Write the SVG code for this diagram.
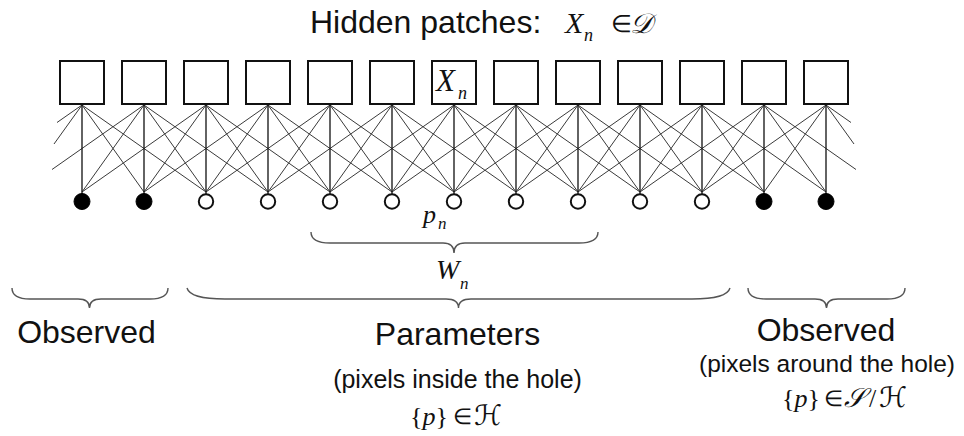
<svg xmlns="http://www.w3.org/2000/svg" width="964" height="436" viewBox="0 0 964 436">
<style>
.sq{fill:#fff;stroke:#111;stroke-width:2}
.dg{stroke:#3a3a3a;stroke-width:1;fill:none}
.vt{stroke:#111;stroke-width:1.3}
.op{fill:#fff;stroke:#111;stroke-width:2}
.fl{fill:#000;stroke:#000;stroke-width:1}
.br{fill:none;stroke:#555;stroke-width:1.4}
.lb{font-family:"Liberation Sans",Arial,sans-serif;fill:#111}
.mi{font-family:"Liberation Serif","Times New Roman",serif;font-style:italic;fill:#111}
.mr{font-family:"Liberation Serif","Times New Roman",serif;fill:#111}
.sc{font-family:"DejaVu Serif","DejaVu Sans",serif;font-style:italic;fill:#111}
</style>
<rect width="964" height="436" fill="#fff"/>
<g id="title">
<text class="lb" x="310" y="33" font-size="32">Hidden patches:</text>
<text class="mi" x="565" y="33" font-size="30">X</text>
<text class="mi" x="584" y="41" font-size="18">n</text>
<text class="mr" x="611" y="32" font-size="24">∈</text>
<text class="sc" x="630" y="33" font-size="28">𝒟</text>
</g>
<g id="connectors">
<path class="dg" d="M82 105L206 192M82 105L144 192M144 105L268 192M144 105L206 192M144 105L82 192M206 105L330 192M206 105L268 192M206 105L144 192M206 105L82 192M268 105L392 192M268 105L330 192M268 105L206 192M268 105L144 192M330 105L454 192M330 105L392 192M330 105L268 192M330 105L206 192M392 105L516 192M392 105L454 192M392 105L330 192M392 105L268 192M454 105L578 192M454 105L516 192M454 105L392 192M454 105L330 192M516 105L640 192M516 105L578 192M516 105L454 192M516 105L392 192M578 105L702 192M578 105L640 192M578 105L516 192M578 105L454 192M640 105L764 192M640 105L702 192M640 105L578 192M640 105L516 192M702 105L826 192M702 105L764 192M702 105L640 192M702 105L578 192M764 105L826 192M764 105L702 192M764 105L640 192M826 105L764 192M826 105L702 192"/>
<path class="dg" d="M82 105L54 144M82 105L57 122.5M144 105L52 169.5M826 105L854 144M826 105L851 122.5M764 105L856 169.5"/>
<path class="vt" d="M82 105V194M144 105V194M206 105V194M268 105V194M330 105V194M392 105V194M454 105V194M516 105V194M578 105V194M640 105V194M702 105V194M764 105V194M826 105V194"/>
</g>
<g id="patches">
<rect id="x0" class="sq" x="60" y="61" width="44" height="43"/>
<rect id="x1" class="sq" x="122" y="61" width="44" height="43"/>
<rect id="x2" class="sq" x="184" y="61" width="44" height="43"/>
<rect id="x3" class="sq" x="246" y="61" width="44" height="43"/>
<rect id="x4" class="sq" x="308" y="61" width="44" height="43"/>
<rect id="x5" class="sq" x="370" y="61" width="44" height="43"/>
<g id="x6"><rect class="sq" x="432" y="61" width="44" height="43"/>
<text class="mi" x="436" y="91" font-size="31">X</text>
<text class="mi" x="458" y="99" font-size="18">n</text></g>
<rect id="x7" class="sq" x="494" y="61" width="44" height="43"/>
<rect id="x8" class="sq" x="556" y="61" width="44" height="43"/>
<rect id="x9" class="sq" x="618" y="61" width="44" height="43"/>
<rect id="x10" class="sq" x="680" y="61" width="44" height="43"/>
<rect id="x11" class="sq" x="742" y="61" width="44" height="43"/>
<rect id="x12" class="sq" x="804" y="61" width="44" height="43"/>
</g>
<g id="pixels">
<circle id="p0" class="fl" cx="82" cy="201.5" r="8"/>
<circle id="p1" class="fl" cx="144" cy="201.5" r="8"/>
<circle id="p2" class="op" cx="206" cy="201.5" r="7.2"/>
<circle id="p3" class="op" cx="268" cy="201.5" r="7.2"/>
<circle id="p4" class="op" cx="330" cy="201.5" r="7.2"/>
<circle id="p5" class="op" cx="392" cy="201.5" r="7.2"/>
<circle id="p6" class="op" cx="454" cy="201.5" r="7.2"/>
<circle id="p7" class="op" cx="516" cy="201.5" r="7.2"/>
<circle id="p8" class="op" cx="578" cy="201.5" r="7.2"/>
<circle id="p9" class="op" cx="640" cy="201.5" r="7.2"/>
<circle id="p10" class="op" cx="702" cy="201.5" r="7.2"/>
<circle id="p11" class="fl" cx="764" cy="201.5" r="8"/>
<circle id="p12" class="fl" cx="826" cy="201.5" r="8"/>
</g>
<g id="pn-label">
<text class="mi" x="423" y="223" font-size="26">p</text>
<text class="mi" x="438" y="229" font-size="17">n</text>
</g>
<g id="braces">
<path class="br" d="M311 232Q311 243 330 243L443 243Q454 243 454 253Q454 243 465 243L579 243Q598 243 598 232"/>
<path class="br" d="M12 288Q12 299 30 299L78 299Q89.5 299 89.5 308Q89.5 299 101 299L150 299Q168 299 168 288"/>
<path class="br" d="M187 288Q190 299 225 299L446 299Q458.5 299 458.5 308Q458.5 299 471 299L692 299Q727 299 730 288"/>
<path class="br" d="M748 288Q748 299 766 299L815 299Q826.5 299 826.5 308Q826.5 299 838 299L887 299Q905 299 905 288"/>
</g>
<g id="wn-label">
<text class="mi" x="436" y="279" font-size="28">W</text>
<text class="mi" x="460" y="289" font-size="17">n</text>
</g>
<g id="observed-left">
<text class="lb" x="86.5" y="343" font-size="32" text-anchor="middle">Observed</text>
</g>
<g id="parameters">
<text class="lb" x="457.5" y="345" font-size="32" text-anchor="middle">Parameters</text>
<text class="lb" x="457.5" y="388" font-size="25" text-anchor="middle">(pixels inside the hole)</text>
<text class="mr" x="410" y="425" font-size="26">{<tspan class="mi">p</tspan>}</text>
<text class="mr" x="453" y="424" font-size="22">∈</text>
<text class="sc" x="474" y="425" font-size="28">ℋ</text>
</g>
<g id="observed-right">
<text class="lb" x="826" y="341" font-size="32" text-anchor="middle">Observed</text>
<text class="lb" x="827" y="372" font-size="24.5" text-anchor="middle">(pixels around the hole)</text>
<text class="mr" x="782" y="407" font-size="26">{<tspan class="mi">p</tspan>}</text>
<text class="mr" x="824" y="406" font-size="22">∈</text>
<text class="sc" x="844" y="407" font-size="27">𝒮</text>
<text class="mr" x="869" y="407" font-size="26">/</text>
<text class="sc" x="879" y="407" font-size="28">ℋ</text>
</g>
</svg>
